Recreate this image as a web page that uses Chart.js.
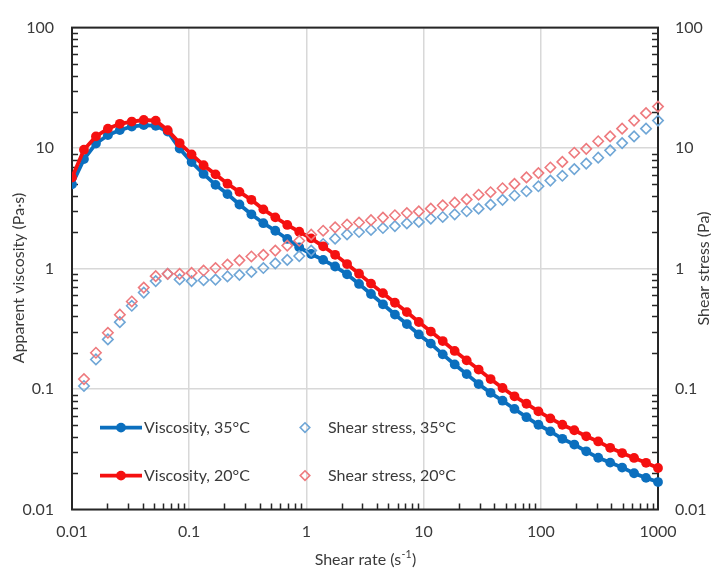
<!DOCTYPE html>
<html>
<head>
<meta charset="utf-8">
<script src="https://cdn.jsdelivr.net/npm/chart.js@4.4.1/dist/chart.umd.min.js"></script>
<style>
  html, body { margin: 0; padding: 0; background: #ffffff; }
  #wrap { width: 711px; height: 571px; position: relative; }
</style>
</head>
<body>
<div id="wrap"><canvas id="c" width="711" height="571"></canvas></div>
<script>
// Shear rate sweep (s^-1), log-spaced from 0.01 to 1000
const shearRate = [0.01, 0.01265, 0.016, 0.02024, 0.0256, 0.03237, 0.04095, 0.0518, 0.06551, 0.08287,
  0.1048, 0.1326, 0.1677, 0.2121, 0.2683, 0.3393, 0.4292, 0.5429, 0.6867, 0.8687,
  1.099, 1.390, 1.758, 2.223, 2.812, 3.557, 4.499, 5.691, 7.197, 9.104,
  11.52, 14.56, 18.42, 23.30, 29.47, 37.28, 47.16, 59.64, 75.44, 95.42,
  120.7, 152.7, 193.1, 244.2, 308.9, 390.7, 494.2, 625.1, 790.6, 1000];

// Apparent viscosity (Pa·s)
const viscosity35 = [5.0, 8.1, 10.9, 12.8, 14.1, 15.1, 15.5, 15.3, 13.7, 9.9,
  7.65, 6.1, 4.95, 4.15, 3.40, 2.82, 2.38, 2.06, 1.76, 1.50,
  1.32, 1.18, 1.04, 0.895, 0.745, 0.615, 0.505, 0.415, 0.346, 0.284,
  0.238, 0.194, 0.160, 0.133, 0.110, 0.0930, 0.0800, 0.0683, 0.0584, 0.0505,
  0.0445, 0.0386, 0.0346, 0.0304, 0.0269, 0.0245, 0.0223, 0.0200, 0.0183, 0.0169];
const viscosity20 = [5.7, 9.7, 12.5, 14.5, 15.9, 16.6, 17.1, 16.9, 14.1, 11.0,
  8.85, 7.2, 6.05, 5.06, 4.33, 3.72, 3.10, 2.66, 2.30, 2.02,
  1.78, 1.53, 1.30, 1.09, 0.905, 0.75, 0.625, 0.52, 0.435, 0.36,
  0.300, 0.250, 0.207, 0.173, 0.145, 0.121, 0.102, 0.0870, 0.0755, 0.0652,
  0.0570, 0.0505, 0.0455, 0.0405, 0.0367, 0.0325, 0.0294, 0.0268, 0.0244, 0.0221];

// Shear stress (Pa), from the second shear rate onwards
const stress35 = [0.106, 0.176, 0.258, 0.359, 0.491, 0.632, 0.787, 0.904, 0.812, 0.787,
  0.80, 0.81, 0.86, 0.887, 0.937, 1.01, 1.105, 1.18, 1.27, 1.41,
  1.60, 1.77, 1.92, 2.01, 2.09, 2.17, 2.25, 2.37, 2.44, 2.60,
  2.68, 2.82, 2.99, 3.14, 3.39, 3.72, 4.04, 4.38, 4.82, 5.37,
  5.89, 6.69, 7.43, 8.32, 9.58, 11.0, 12.5, 14.5, 16.9];
const stress20 = [0.121, 0.20, 0.293, 0.414, 0.533, 0.695, 0.865, 0.904, 0.904, 0.92,
  0.963, 1.01, 1.08, 1.17, 1.26, 1.30, 1.41, 1.55, 1.70, 1.91,
  2.06, 2.20, 2.32, 2.41, 2.52, 2.65, 2.77, 2.89, 2.98, 3.14,
  3.35, 3.52, 3.75, 4.10, 4.30, 4.64, 5.04, 5.71, 6.20, 6.90,
  7.68, 9.15, 9.86, 11.4, 12.5, 14.5, 16.9, 19.5, 22.1];

// Axis decades and labels
const xDecades = [0.01, 0.1, 1, 10, 100, 1000];
const yDecades = [0.01, 0.1, 1, 10, 100];
const seriesNames = ['Viscosity, 35°C', 'Shear stress, 35°C', 'Viscosity, 20°C', 'Shear stress, 20°C'];
const xTitle = 'Shear rate (s';
const xTitleSup = '-1';
const yTitle = 'Apparent viscosity (Pa·s)';
const y2Title = 'Shear stress (Pa)';

const FONT = 'Lato, "Open Sans", sans-serif';
const TEXT = '#3a3a3a';
const FRAME = '#262626';
const BLUE = '#0b6fbe';
const RED = '#f51010';
const BLUE_LIGHT = '#6fa6d6';
const RED_LIGHT = '#ee7a7e';

const pair = (xs, ys) => ys.map((v, i) => ({ x: xs[i], y: v }));
const stressRates = shearRate.slice(1);

const noClip = { left: 0, top: false, right: false, bottom: false };

const datasets = [
  { label: seriesNames[2], data: pair(shearRate, viscosity20), yAxisID: 'y',
    borderColor: RED, backgroundColor: RED, borderWidth: 3.8, pointRadius: 4.9,
    pointStyle: 'circle', pointBorderWidth: 0, showLine: true, order: 1, clip: noClip, kind: 'line' },
  { label: seriesNames[3], data: pair(stressRates, stress20), yAxisID: 'y2',
    borderColor: RED_LIGHT, backgroundColor: 'rgba(0,0,0,0)', pointBorderColor: RED_LIGHT,
    pointBackgroundColor: 'rgba(255,255,255,0)', pointRadius: 5.2, pointBorderWidth: 1.6,
    pointStyle: 'rectRot', showLine: false, order: 0, clip: noClip, kind: 'marker' },
  { label: seriesNames[1], data: pair(stressRates, stress35), yAxisID: 'y2',
    borderColor: BLUE_LIGHT, backgroundColor: 'rgba(0,0,0,0)', pointBorderColor: BLUE_LIGHT,
    pointBackgroundColor: 'rgba(255,255,255,0)', pointRadius: 5.2, pointBorderWidth: 1.6,
    pointStyle: 'rectRot', showLine: false, order: 2, clip: noClip, kind: 'marker' },
  { label: seriesNames[0], data: pair(shearRate, viscosity35), yAxisID: 'y',
    borderColor: BLUE, backgroundColor: BLUE, borderWidth: 3.8, pointRadius: 4.9,
    pointStyle: 'circle', pointBorderWidth: 0, showLine: true, order: 3, clip: noClip, kind: 'line' }
];

// Frame around the plot plus short inward minor ticks on the log axes
const framePlugin = {
  id: 'frame',
  beforeDatasetsDraw(chart) {
    const { ctx, chartArea: a, scales } = chart;
    ctx.save();
    ctx.strokeStyle = FRAME;
    ctx.lineWidth = 1.5;
    const len = 6;
    ctx.beginPath();
    for (let e = -2; e < 3; e++) {
      for (let m = 2; m <= 9; m++) {
        const px = Math.round(scales.x.getPixelForValue(m * Math.pow(10, e))) + 0.5;
        ctx.moveTo(px, a.bottom); ctx.lineTo(px, a.bottom - len);
      }
    }
    for (let e = -2; e < 2; e++) {
      for (let m = 2; m <= 9; m++) {
        const py = Math.round(scales.y.getPixelForValue(m * Math.pow(10, e))) + 0.5;
        ctx.moveTo(a.left, py); ctx.lineTo(a.left + len, py);
        const py2 = Math.round(scales.y2.getPixelForValue(m * Math.pow(10, e))) + 0.5;
        ctx.moveTo(a.right, py2); ctx.lineTo(a.right - len, py2);
      }
    }
    ctx.stroke();
    ctx.lineWidth = 2;
    ctx.strokeRect(a.left, a.top, a.right - a.left, a.bottom - a.top);
    ctx.restore();
  },
  afterDraw(chart) {
    const { ctx, chartArea: a } = chart;
    ctx.save();
    ctx.fillStyle = TEXT;
    const big = '16px ' + FONT;
    const small = '10.5px ' + FONT;
    ctx.font = big;
    ctx.textBaseline = 'middle';
    // x axis title with superscript
    const base = ctx.measureText(xTitle).width;
    ctx.font = small;
    const supW = ctx.measureText(xTitleSup).width;
    ctx.font = big;
    const closeW = ctx.measureText(')').width;
    const total = base + supW + closeW;
    const cx = (a.left + a.right) / 2;
    const tx = cx - total / 2;
    const ty = 560;
    ctx.textAlign = 'left';
    ctx.fillText(xTitle, tx, ty);
    ctx.font = small;
    ctx.fillText(xTitleSup, tx + base + 0.5, ty - 5);
    ctx.font = big;
    ctx.fillText(')', tx + base + supW + 1, ty);
    // y axis titles
    ctx.textAlign = 'center';
    ctx.save();
    ctx.translate(19, 278);
    ctx.rotate(-Math.PI / 2);
    ctx.fillText(yTitle, 0, 0);
    ctx.restore();
    ctx.save();
    ctx.translate(704, (a.top + a.bottom) / 2);
    ctx.rotate(-Math.PI / 2);
    ctx.fillText(y2Title, 0, 0);
    ctx.restore();

    // legend inside the plot, two columns by two rows
    const order = [3, 2, 0, 1]; // visc 35, stress 35, visc 20, stress 20
    const rows = [a.top + 400, a.top + 448];
    const cols = [a.left + 28, a.left + 228];
    order.forEach((di, i) => {
      const ds = chart.data.datasets[di];
      const row = rows[Math.floor(i / 2)];
      const col = cols[i % 2];
      if (ds.kind === 'line') {
        ctx.strokeStyle = ds.borderColor;
        ctx.lineWidth = 3.8;
        ctx.beginPath();
        ctx.moveTo(col, row); ctx.lineTo(col + 42, row);
        ctx.stroke();
        ctx.fillStyle = ds.backgroundColor;
        ctx.beginPath();
        ctx.arc(col + 21, row, 4.9, 0, Math.PI * 2);
        ctx.fill();
        ctx.fillStyle = TEXT;
        ctx.textAlign = 'left';
        ctx.fillText(ds.label, col + 44, row);
      } else {
        ctx.strokeStyle = ds.pointBorderColor;
        ctx.lineWidth = 1.6;
        const r = 4.8;
        const dx = col + 5;
        ctx.beginPath();
        ctx.moveTo(dx, row - r); ctx.lineTo(dx + r, row); ctx.lineTo(dx, row + r); ctx.lineTo(dx - r, row);
        ctx.closePath();
        ctx.stroke();
        ctx.fillStyle = TEXT;
        ctx.textAlign = 'left';
        ctx.fillText(ds.label, col + 28, row);
      }
    });
    ctx.restore();
  }
};

const tickFont = { family: FONT, size: 16 };
const decadeLabel = v => String(v);

new Chart(document.getElementById('c'), {
  type: 'scatter',
  data: { datasets },
  options: {
    responsive: false,
    animation: false,
    devicePixelRatio: 1,
    layout: { padding: { top: 21, left: 0, right: 0, bottom: 0 } },
    plugins: { legend: { display: false }, tooltip: { enabled: false } },
    scales: {
      x: {
        type: 'logarithmic', position: 'bottom', min: 0.01, max: 1000,
        afterBuildTicks: s => { s.ticks = xDecades.map(v => ({ value: v, major: true })); },
        afterFit: s => { s.height = 61.5; },
        ticks: { callback: decadeLabel, font: tickFont, color: TEXT, padding: 13, autoSkip: false, maxRotation: 0 },
        grid: { color: '#d8d8d8', lineWidth: 1.5, drawTicks: false },
        border: { display: false }
      },
      y: {
        type: 'logarithmic', position: 'left', min: 0.01, max: 100,
        afterBuildTicks: s => { s.ticks = yDecades.map(v => ({ value: v, major: true })); },
        afterFit: s => { s.width = 72; },
        ticks: { callback: decadeLabel, font: tickFont, color: TEXT, padding: 18, autoSkip: false },
        grid: { color: '#d8d8d8', lineWidth: 1.5, drawTicks: false },
        border: { display: false }
      },
      y2: {
        type: 'logarithmic', position: 'right', min: 0.01, max: 100,
        afterBuildTicks: s => { s.ticks = yDecades.map(v => ({ value: v, major: true })); },
        afterFit: s => { s.width = 53; },
        ticks: { callback: decadeLabel, font: tickFont, color: TEXT, padding: 17, autoSkip: false },
        grid: { drawOnChartArea: false, drawTicks: false },
        border: { display: false }
      }
    }
  },
  plugins: [framePlugin]
});
</script>
</body>
</html>
